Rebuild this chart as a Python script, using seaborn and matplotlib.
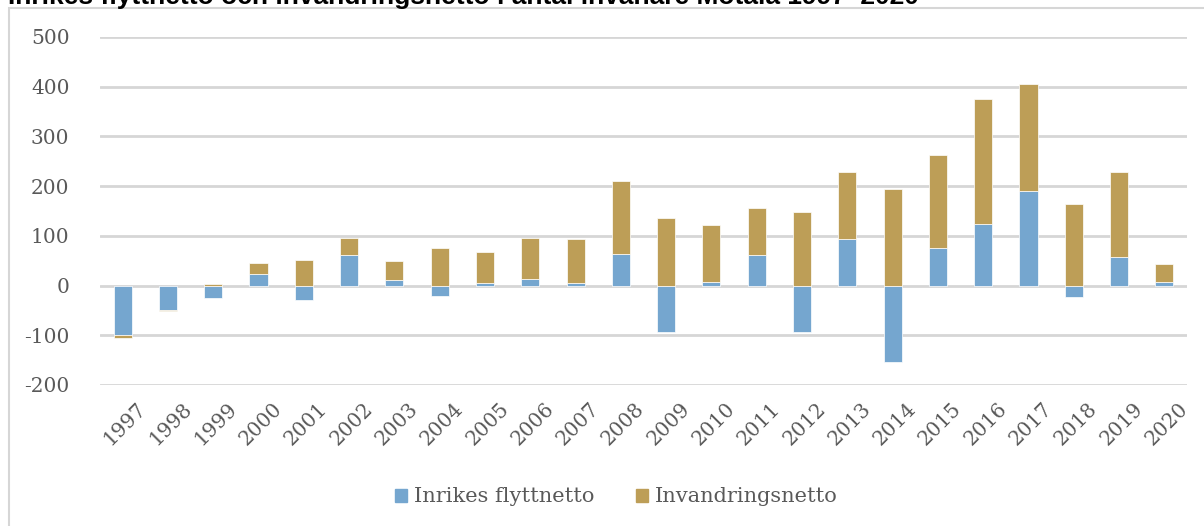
import numpy as np
import pandas as pd
import seaborn as sns
import matplotlib.pyplot as plt
import matplotlib.transforms as mtransforms
from matplotlib.patches import Rectangle, Patch

# Data
years = [str(y) for y in range(1997, 2021)]
inrikes = [-100, -49, -26, 24, -30, 62, 11, -21, 5, 14, 6, 63,
           -93, 8, 61, -93, 93, -154, 75, 124, 191, -22, 58, 8]
invandring = [-5, -2, 3, 22, 52, 34, 39, 75, 63, 81, 88, 147,
              135, 114, 96, 148, 136, 195, 187, 252, 214, 164, 171, 36]
yticks = [-200, -100, 0, 100, 200, 300, 400, 500]

title = "Inrikes flyttnetto och invandringsnetto i antal invånare Motala 1997–2020"
blue = "#75A6CF"
gold = "#BD9E57"
text_gray = "#595959"
grid_gray = "#D6D6D6"

sns.set_theme(style="white")
plt.rcParams['font.family'] = ['DejaVu Serif']
plt.rcParams['axes.unicode_minus'] = False

df = pd.DataFrame({'year': years, 'inrikes': inrikes, 'invandring': invandring})
# Excel style stacking: negatives stack below zero, positives above
df['bottom'] = np.where(np.sign(df['invandring']) == np.sign(df['inrikes']), df['inrikes'], 0)

fig = plt.figure(figsize=(12.04, 5.26), dpi=100)
ax = fig.add_axes([100 / 1204, 1 - 385 / 526, 1087 / 1204, 348 / 526])

for y in yticks:
    ax.axhline(y, color=grid_gray, lw=2, zorder=0)

sns.barplot(data=df, x='year', y='inrikes', color=blue, width=0.4,
            saturation=1, ax=ax, edgecolor='white', linewidth=0.5, zorder=2)
sns.barplot(data=df, x='year', y='invandring', color=gold, width=0.4,
            saturation=1, ax=ax, bottom=df['bottom'], edgecolor='white',
            linewidth=0.5, zorder=2)

ax.set_xlim(-0.5, len(years) - 0.5)
ax.set_ylim(-200, 500)
ax.set_yticks(yticks)
ax.set_xlabel('')
ax.set_ylabel('')
for s in ax.spines.values():
    s.set_visible(False)
ax.tick_params(axis='both', length=0, colors=text_gray)
ax.tick_params(axis='y', labelsize=14.5, pad=22)
ax.set_xticks(range(len(years)))
ax.set_xticklabels(years, rotation=45, ha='right', rotation_mode='anchor',
                   fontsize=14.5, color=text_gray)
offset = mtransforms.ScaledTranslation(14 / 100, -9 / 100, fig.dpi_scale_trans)
for lbl in ax.get_xticklabels():
    lbl.set_transform(lbl.get_transform() + offset)

# chart frame
fig.patches.append(Rectangle((9 / 1204, -0.1), 1.2, 1 - 8 / 526 + 0.1,
                             transform=fig.transFigure, fill=False,
                             edgecolor=grid_gray, lw=1.5))

# title, cut off at the top as in the source
fig.text(8 / 1204, 1 + 4 / 526, title, ha='left', va='center',
         fontsize=19, fontweight='bold', family='Liberation Sans', color='black')

handles = [Patch(color=blue, label='Inrikes flyttnetto'),
           Patch(color=gold, label='Invandringsnetto')]
fig.legend(handles=handles, loc='center', bbox_to_anchor=(616 / 1204, 1 - 497 / 526),
           ncol=2, frameon=False, fontsize=15, handlelength=0.6, handleheight=0.6,
           handletextpad=0.3, columnspacing=2.0, labelcolor=text_gray)

fig.savefig('out.png', dpi=100)
